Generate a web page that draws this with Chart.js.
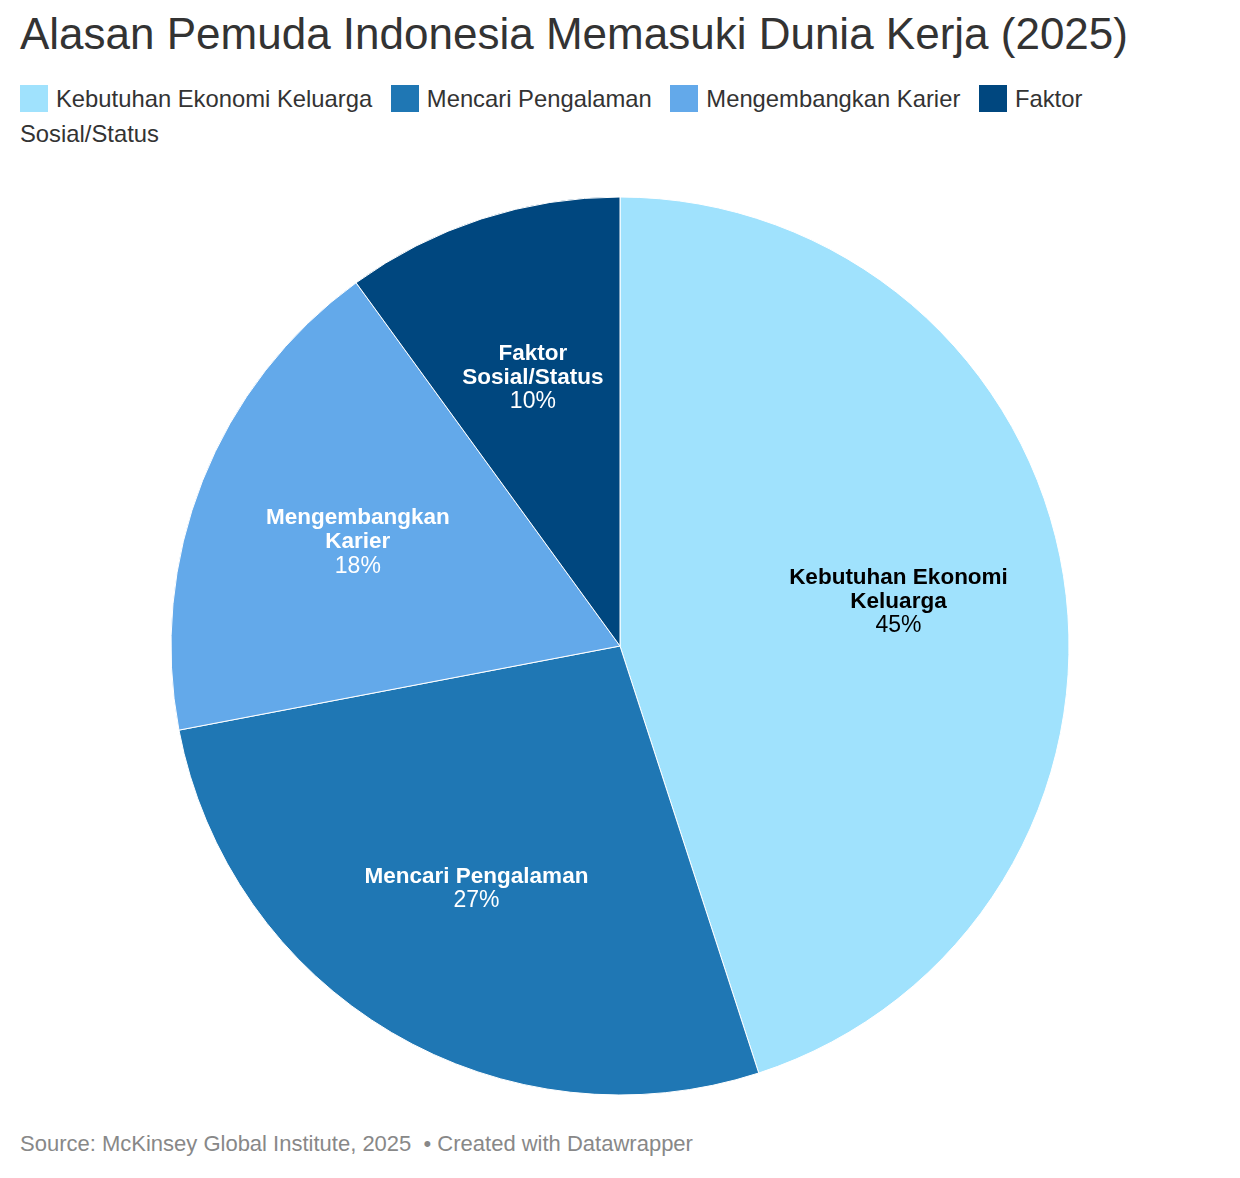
<!DOCTYPE html>
<html>
<head>
<meta charset="utf-8">
<script src="https://cdn.jsdelivr.net/npm/chart.js@4"></script>
<style>
  body { margin: 0; background: #fff; font-family: "Liberation Sans", Arial, sans-serif; }
  #title { position: absolute; left: 20px; top: 9px; font-size: 44px; color: #333; white-space: nowrap; }
  #legend { position: absolute; left: 20px; top: 81px; width: 1190px; font-size: 23.8px; color: #333; line-height: 35px; }
  #legend .sq { display: inline-block; width: 28px; height: 27px; vertical-align: -5px; margin-right: 8px; }
  #legend .item { margin-right: 12px; }
  #wrap { position: absolute; left: 0; top: 186px; width: 1240px; height: 920px; }
  #footer { position: absolute; left: 20px; top: 1131px; font-size: 22px; color: #888; }
</style>
</head>
<body>
<div id="title">Alasan Pemuda Indonesia Memasuki Dunia Kerja (2025)</div>
<div id="legend"></div>
<div id="wrap"><canvas id="pie"></canvas></div>
<div id="footer">Source: McKinsey Global Institute, 2025 &nbsp;• Created with Datawrapper</div>
<script>
const categories = ["Kebutuhan Ekonomi Keluarga", "Mencari Pengalaman", "Mengembangkan Karier", "Faktor Sosial/Status"];
const values = [45, 27, 18, 10];
const labelLines = [["Kebutuhan Ekonomi", "Keluarga"], ["Mencari Pengalaman"], ["Mengembangkan", "Karier"], ["Faktor", "Sosial/Status"]];
const colors = ["#a0e2fd", "#1f77b4", "#63a9ea", "#00477f"];
const textColors = ["#000", "#fff", "#fff", "#fff"];

const legend = document.getElementById("legend");
categories.forEach((c, i) => {
  const s = document.createElement("span");
  s.className = "item";
  s.innerHTML = '<span class="sq" style="background:' + colors[i] + '"></span>' + c;
  legend.appendChild(s);
  legend.appendChild(document.createTextNode(" "));
});

const sliceLabels = {
  id: "sliceLabels",
  afterDatasetsDraw(chart) {
    const ctx = chart.ctx;
    const meta = chart.getDatasetMeta(0);
    meta.data.forEach((arc, i) => {
      const mid = (arc.startAngle + arc.endAngle) / 2;
      const r = arc.outerRadius * 0.628;
      const x = arc.x + Math.cos(mid) * r;
      const y = arc.y + Math.sin(mid) * r;
      const lines = labelLines[i];
      const lh = 24;
      const total = lines.length + 1;
      let y0 = y - (total - 1) * lh / 2;
      ctx.save();
      ctx.textAlign = "center";
      ctx.textBaseline = "middle";
      ctx.fillStyle = textColors[i];
      ctx.font = "bold 22.5px 'Liberation Sans', Arial, sans-serif";
      lines.forEach((l, j) => ctx.fillText(l, x, y0 + j * lh));
      ctx.font = "23px 'Liberation Sans', Arial, sans-serif";
      ctx.fillText(values[i] + "%", x, y0 + lines.length * lh);
      ctx.restore();
    });
  }
};

new Chart(document.getElementById("pie"), {
  type: "pie",
  data: {
    labels: categories,
    datasets: [{
      data: values,
      backgroundColor: colors,
      borderColor: "#fff",
      borderWidth: 1
    }]
  },
  options: {
    responsive: true,
    maintainAspectRatio: false,
    animation: false,
    radius: 449,
    layout: { padding: 0 },
    plugins: { legend: { display: false }, tooltip: { enabled: false } }
  },
  plugins: [sliceLabels]
});
</script>
</body>
</html>
